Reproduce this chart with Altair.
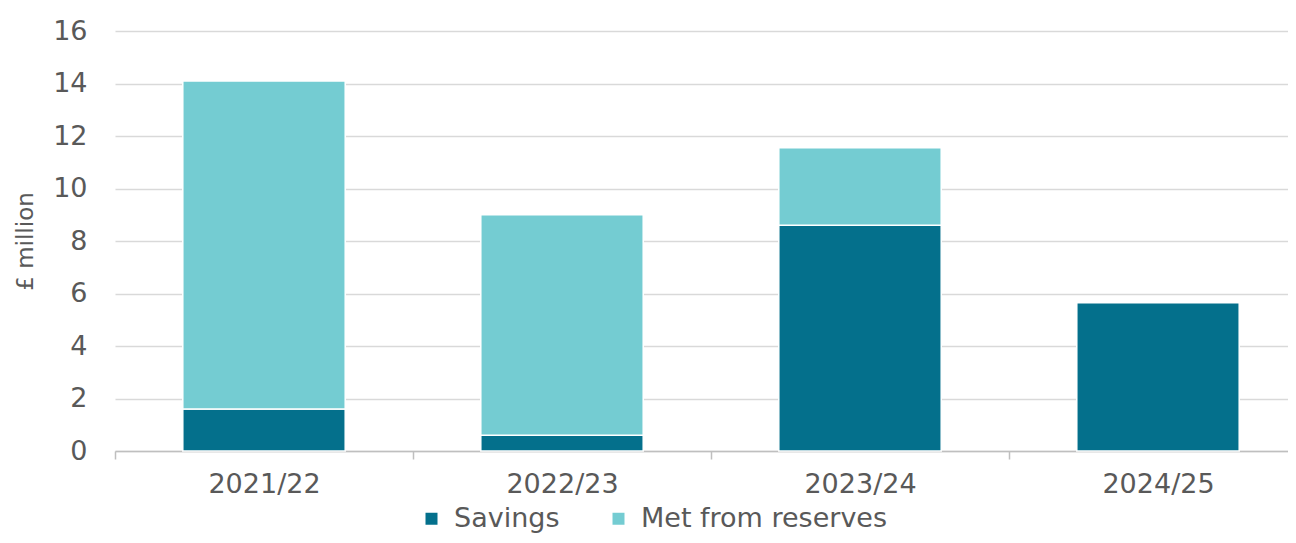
import altair as alt
import pandas as pd

years = ["2021/22", "2022/23", "2023/24", "2024/25"]
savings = [1.6, 0.6, 8.6, 5.65]
reserves = [12.5, 8.4, 2.95, 0.0]
series = ["Savings", "Met from reserves"]
colors = ["#04708C", "#74CCD2"]
y_ticks = [0, 2, 4, 6, 8, 10, 12, 14, 16]

rows = []
for i, yr in enumerate(years):
    for k, vals in enumerate([savings, reserves]):
        if vals[i] > 0:
            rows.append({"year": yr, "series": series[k], "value": vals[i], "order": k})
df = pd.DataFrame(rows)

FONT = "DejaVu Sans"
GRAY = "#595959"

chart = alt.Chart(df).mark_bar(
    width=alt.RelativeBandSize(0.545), stroke="white", strokeWidth=1.5
).encode(
    x=alt.X("year:N", sort=years, title=None,
            scale=alt.Scale(paddingInner=0, paddingOuter=0),
            axis=alt.Axis(labelAngle=0, tickBand="extent", domainColor="#BFBFBF",
                          domainWidth=1.5, tickColor="#BFBFBF", tickWidth=1.5,
                          tickSize=8, labelPadding=12, labelFontSize=27,
                          labelColor=GRAY, labelFont=FONT, grid=False)),
    y=alt.Y("value:Q", stack="zero", title="£ million",
            scale=alt.Scale(domain=[0, 16], nice=False),
            axis=alt.Axis(values=y_ticks, domain=False, ticks=False, labelPadding=28,
                          labelFontSize=27, labelColor=GRAY, labelFont=FONT,
                          titleFontSize=23, titleFont=FONT, titleColor=GRAY,
                          titleFontWeight="normal", titlePadding=15,
                          gridColor="#D9D9D9", gridWidth=1.5)),
    color=alt.Color("series:N", sort=series,
                    scale=alt.Scale(domain=series, range=colors),
                    legend=alt.Legend(title=None, orient="none", legendX=303, legendY=474,
                                      direction="horizontal", symbolType="square",
                                      symbolSize=144, symbolStrokeWidth=0,
                                      labelFontSize=27, labelFont=FONT, labelColor=GRAY,
                                      labelOffset=9, columnPadding=45, padding=0,
                                      labelLimit=500)),
    order=alt.Order("order:Q"),
).properties(
    width=1192, height=420,
    autosize=alt.AutoSizeParams(type="none"),
    padding={"left": 107, "top": 23, "right": -19, "bottom": 84}
).configure_view(stroke=None)

chart.save("out.html", embed_options={"renderer": "svg", "actions": False})
